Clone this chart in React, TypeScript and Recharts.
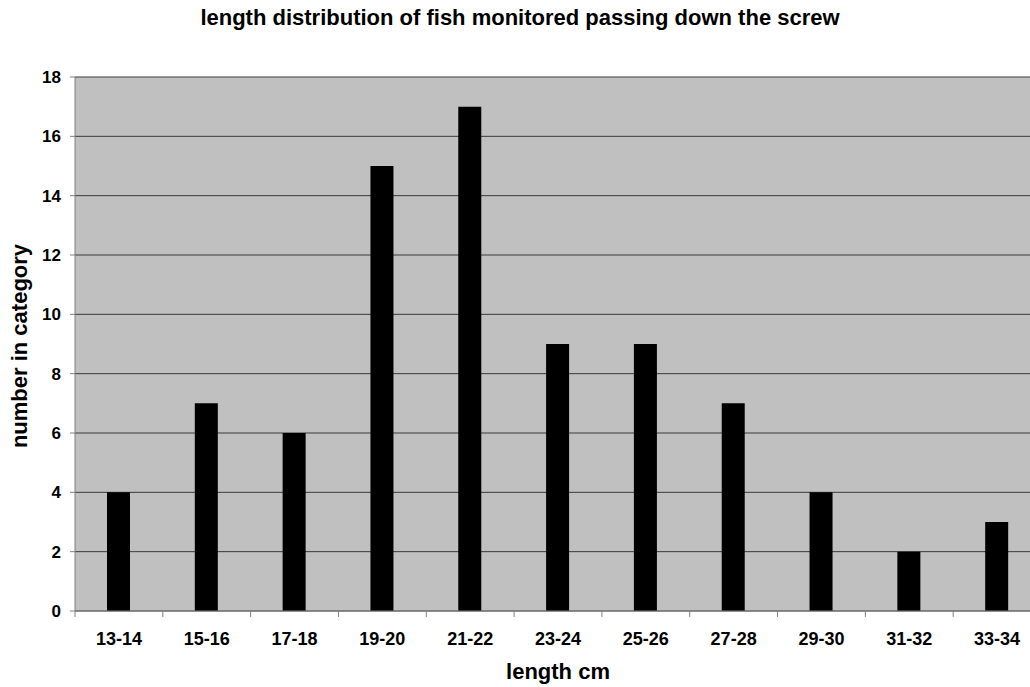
import { BarChart, Bar, XAxis, YAxis, CartesianGrid } from "recharts";

const CATEGORIES = ["13-14", "15-16", "17-18", "19-20", "21-22", "23-24", "25-26", "27-28", "29-30", "31-32", "33-34"];
const COUNTS = [4, 7, 6, 15, 17, 9, 9, 7, 4, 2, 3];
const Y_TICKS = [0, 2, 4, 6, 8, 10, 12, 14, 16, 18];

const FONT = "'Liberation Sans', Arial, sans-serif";

const data = CATEGORIES.map((c, i) => ({ range: c, count: COUNTS[i] }));

function CategoryTick(props: any) {
  const { x, y, payload, index } = props;
  const half = payload?.offset ?? 44;
  return (
    <g>
      <line x1={x - half} x2={x - half} y1={y - 8} y2={y - 2} stroke="#808080" strokeWidth={1} />
      {index === CATEGORIES.length - 1 && (
        <line x1={x + half} x2={x + half} y1={y - 8} y2={y - 2} stroke="#808080" strokeWidth={1} />
      )}
      <text x={x} y={y + 26} textAnchor="middle" fontFamily={FONT} fontWeight="bold" fontSize={18} fill="#000">
        {payload.value}
      </text>
    </g>
  );
}

export default function App() {
  return (
    <div style={{ position: "fixed", left: 0, top: 0, width: 1030, height: 687, overflow: "hidden", background: "#fff" }}>
      <div style={{ position: "absolute", top: 5, left: 0, width: 1040, textAlign: "center", fontFamily: FONT, fontWeight: "bold", fontSize: 22, whiteSpace: "nowrap" }}>
        length distribution of fish monitored passing down the screw
      </div>
      <div style={{ position: "absolute", top: 659, left: 75, width: 966, textAlign: "center", fontFamily: FONT, fontWeight: "bold", fontSize: 22 }}>
        length cm
      </div>
      <div
        style={{
          position: "absolute",
          left: 20,
          top: 346,
          transform: "translate(-50%, -50%) rotate(-90deg)",
          whiteSpace: "nowrap",
          fontFamily: FONT,
          fontWeight: "bold",
          fontSize: 22,
        }}
      >
        number in category
      </div>
      <div style={{ position: "absolute", left: 0, top: 0 }}>
        <BarChart width={1045} height={687} data={data} margin={{ top: 77, right: 4, left: 0, bottom: 0 }} barCategoryGap={0}>
          <CartesianGrid vertical={false} fill="#C0C0C0" stroke="#3a3a3a" strokeWidth={1} fillOpacity={1} />
          <XAxis
            dataKey="range"
            height={76}
            axisLine={{ stroke: "#808080" }}
            tickLine={false}
            interval={0}
            tick={<CategoryTick />}
          />
          <YAxis
            width={75}
            domain={[0, 18]}
            ticks={Y_TICKS}
            interval={0}
            axisLine={{ stroke: "#808080" }}
            tickLine={{ stroke: "#808080" }}
            tickSize={5}
            tickMargin={9}
            tick={{ fill: "#000", fontFamily: FONT, fontWeight: "bold", fontSize: 17 }}
          />
          <Bar dataKey="count" fill="#000" barSize={23} isAnimationActive={false} />
        </BarChart>
      </div>
    </div>
  );
}
